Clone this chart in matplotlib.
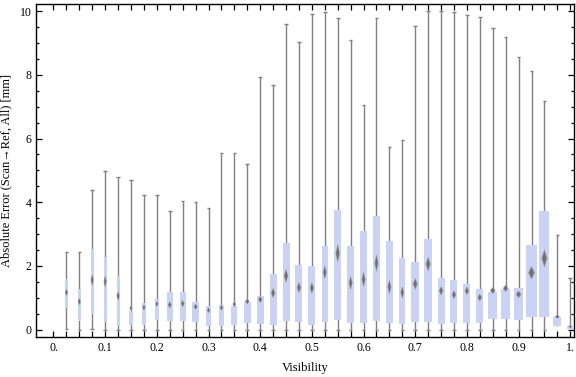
import numpy as np
import matplotlib
matplotlib.use("Agg")
import matplotlib.pyplot as plt

# box-whisker stats per visibility bin (k/40, k = 1..40)
visibility = [k / 40 for k in range(1, 41)]
whisker_hi = [2.45, 2.45, 4.37, 4.97, 4.78, 4.69, 4.22, 4.22, 3.74, 4.03,
              4.00, 3.81, 5.53, 5.56, 5.19, 7.92, 7.67, 9.58, 9.02, 9.90,
              9.96, 9.77, 9.08, 7.04, 9.77, 5.72, 5.96, 9.52, 9.99, 9.99,
              9.96, 9.86, 9.80, 9.46, 9.17, 8.55, 8.11, 7.17, 2.96, 1.61]
upper_q = [1.59, 1.28, 2.53, 2.27, 1.68, 0.59, 0.84, 0.96, 1.18, 1.18,
           0.87, 0.74, 0.77, 0.74, 0.87, 1.06, 1.75, 2.71, 2.03, 2.00,
           2.63, 3.76, 2.63, 3.10, 3.57, 2.78, 2.25, 2.12, 2.85, 1.62,
           1.55, 1.43, 1.28, 1.18, 1.28, 1.31, 2.66, 3.72, 0.40, 0.13]
median = [1.17, 0.88, 1.56, 1.51, 1.06, 0.68, 0.70, 0.81, 0.78, 0.82,
          0.72, 0.61, 0.69, 0.80, 0.89, 0.95, 1.15, 1.69, 1.32, 1.31,
          1.80, 2.40, 1.47, 1.58, 2.09, 1.34, 1.17, 1.44, 2.06, 1.22,
          1.10, 1.22, 1.01, 1.23, 1.30, 1.11, 1.79, 2.24, 0.41, 0.10]
lower_q = [0.69, 0.27, 0.50, 0.25, 0.13, 0.16, 0.16, 0.30, 0.27, 0.27,
           0.24, 0.12, 0.12, 0.15, 0.21, 0.18, 0.16, 0.27, 0.24, 0.16,
           0.24, 0.30, 0.21, 0.21, 0.27, 0.21, 0.18, 0.24, 0.24, 0.19,
           0.22, 0.22, 0.22, 0.33, 0.33, 0.31, 0.40, 0.40, 0.13, 0.03]
whisker_lo = [0.03, 0.0, 0.02, 0.0, 0.0, 0.0, 0.0, 0.0, 0.0, 0.0,
              0.0, 0.0, 0.0, 0.0, 0.0, 0.0, 0.0, 0.0, 0.0, 0.0,
              0.0, 0.0, 0.0, 0.0, 0.0, 0.0, 0.0, 0.0, 0.0, 0.0,
              0.0, 0.0, 0.0, 0.0, 0.0, 0.0, 0.0, 0.0, 0.13, 0.03]

# box widths in pixels (boxes get wider with more samples)
box_px = [3, 2.5, 3.3, 3, 3, 4.3, 4.3, 4, 6, 6,
          6.3, 5, 5.3, 6, 7, 7, 7, 7, 7, 7,
          6.3, 7, 6.3, 6.3, 6.3, 6.3, 6, 8, 8, 7,
          7, 7, 7.3, 9, 9, 9, 11, 10, 7.7, 6]

plt.rcParams['font.family'] = ['Liberation Serif', 'DejaVu Serif']

fig = plt.figure(figsize=(5.76, 3.77), dpi=100)
ax = fig.add_axes([0.063, 0.106, 0.9335, 0.8825])
ax.set_xlim(-0.0333, 1.0072)
ax.set_ylim(-0.23, 10.21)

px = 1 / 516.8  # x data units per pixel
x = np.array(visibility)
widths = np.array(box_px) * px
hi = np.array(whisker_hi)
q3 = np.array(upper_q)
med = np.array(median)
q1 = np.array(lower_q)
lo = np.array(whisker_lo)

whisk_col = "#808080"
ax.vlines(x, lo, hi, color=whisk_col, lw=1.0, zorder=1)
cap = 1.8 * px
ax.hlines(hi, x - cap, x + cap, color=whisk_col, lw=1.0, zorder=1)
has_lo = lo < q1 - 0.01
ax.hlines(lo[has_lo], x[has_lo] - cap, x[has_lo] + cap, color=whisk_col, lw=1.0, zorder=1)

ax.bar(x, q3 - q1, bottom=q1, width=widths, color="#cbd3f4", edgecolor="none", zorder=2)

# median diamonds
for xi, m, w, iqr in zip(x, med, widths, q3 - q1):
    h = 0.045 + 0.075 * iqr
    hw = max(0.32 * w, 1.6 * px)
    ax.fill([xi - hw, xi, xi + hw, xi], [m, m + h, m, m - h],
            color="#9a9a9a", lw=0, zorder=3)
    ax.fill([xi - hw * 0.6, xi, xi + hw * 0.6, xi], [m, m + h * 0.75, m, m - h * 0.75],
            color="#6f6f6f", lw=0, zorder=4)

ax.set_xticks([k / 40 for k in range(0, 41)])
ax.set_xticklabels(["0." if k == 0 else "1." if k == 40 else ("%.1f" % (k / 40) if k % 4 == 0 else "")
                    for k in range(0, 41)])
ax.set_yticks([0, 2, 4, 6, 8, 10])
ax.set_yticks(np.arange(0, 10.01, 0.5), minor=True)
ax.tick_params(direction="in", top=True, right=True, labelsize=8.5, pad=3.5,
               width=0.9, length=4, colors="black")
ax.tick_params(axis="y", which="minor", direction="in", right=True, length=2, width=0.9)
for s in ax.spines.values():
    s.set_linewidth(1.0)

ax.set_xlabel("Visibility", fontsize=9, labelpad=6)
ax.set_ylabel("Absolute Error (Scan\u2192Ref, All) [mm]", fontsize=9, labelpad=5)

plt.savefig("out.png", dpi=100)
